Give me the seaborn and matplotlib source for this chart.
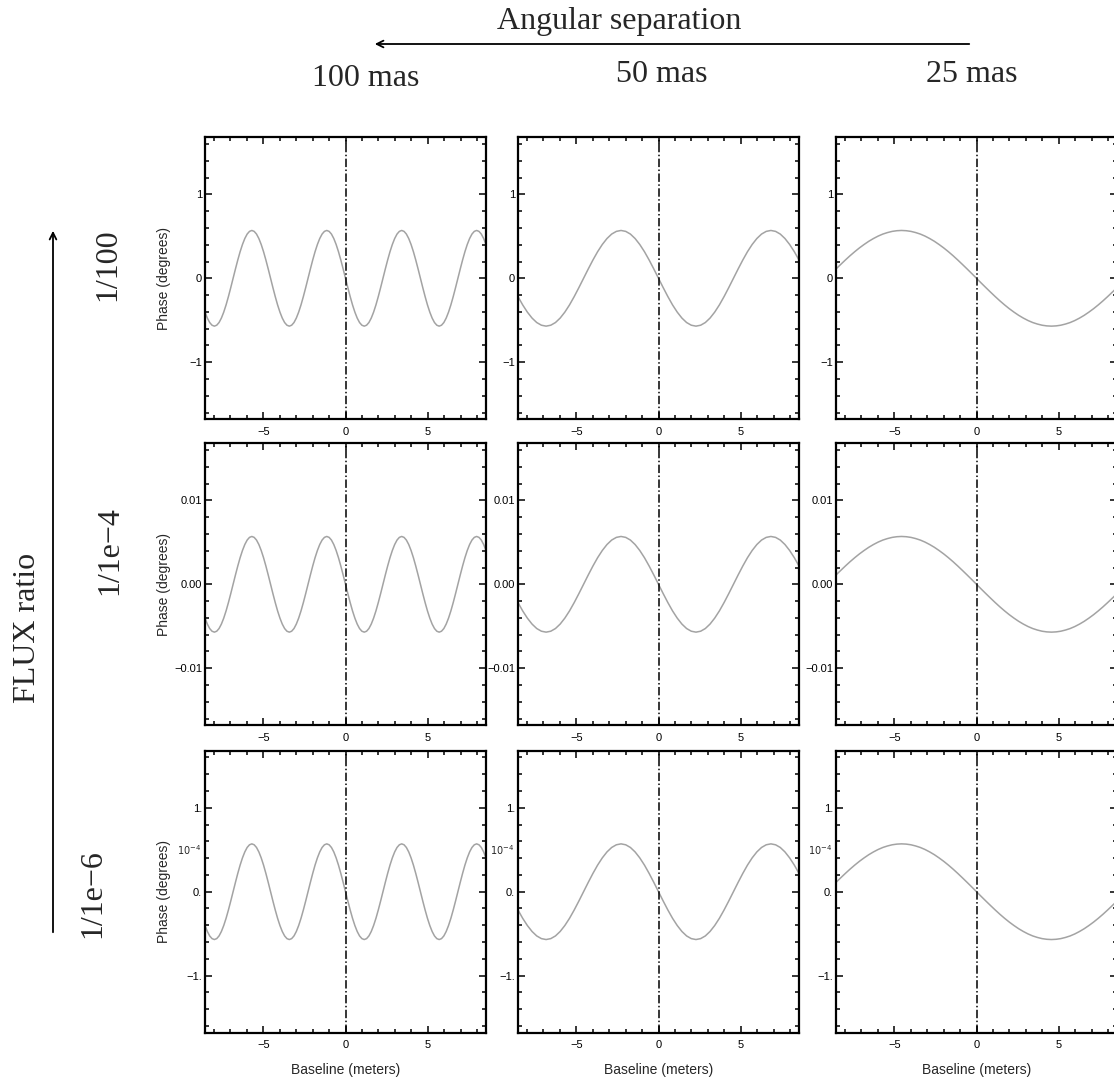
import numpy as np
import pandas as pd
import matplotlib
matplotlib.use("Agg")
import matplotlib.pyplot as plt
import seaborn as sns
from matplotlib.ticker import MultipleLocator, FixedLocator, FixedFormatter
from matplotlib.transforms import blended_transform_factory

# ---------------- data ----------------
separations = ["100 mas", "50 mas", "25 mas"]
flux_labels = ["1/100", "1/1e\u22124", "1/1e\u22126"]
row_scale = [1.0, 1e-2, 1e-4]          # phase relative to the 1/100 row

# finer baseline sampling for the fast-oscillating 100 mas column
baseline_fine = [-8.55, -8.4075, -8.265, -8.1225, -7.98, -7.8375, -7.695, -7.5525, -7.41, -7.2675,
                 -7.125, -6.9825, -6.84, -6.6975, -6.555, -6.4125, -6.27, -6.1275, -5.985, -5.8425,
                 -5.7, -5.5575, -5.415, -5.2725, -5.13, -4.9875, -4.845, -4.7025, -4.56, -4.4175,
                 -4.275, -4.1325, -3.99, -3.8475, -3.705, -3.5625, -3.42, -3.2775, -3.135, -2.9925,
                 -2.85, -2.7075, -2.565, -2.4225, -2.28, -2.1375, -1.995, -1.8525, -1.71, -1.5675,
                 -1.425, -1.2825, -1.14, -0.9975, -0.855, -0.7125, -0.57, -0.4275, -0.285, -0.1425,
                 0.0,
                 0.1425, 0.285, 0.4275, 0.57, 0.7125, 0.855, 0.9975, 1.14, 1.2825, 1.425,
                 1.5675, 1.71, 1.8525, 1.995, 2.1375, 2.28, 2.4225, 2.565, 2.7075, 2.85,
                 2.9925, 3.135, 3.2775, 3.42, 3.5625, 3.705, 3.8475, 3.99, 4.1325, 4.275,
                 4.4175, 4.56, 4.7025, 4.845, 4.9875, 5.13, 5.2725, 5.415, 5.5575, 5.7,
                 5.8425, 5.985, 6.1275, 6.27, 6.4125, 6.555, 6.6975, 6.84, 6.9825, 7.125,
                 7.2675, 7.41, 7.5525, 7.695, 7.8375, 7.98, 8.1225, 8.265, 8.4075, 8.55]

phase_100mas = [-0.403, -0.474, -0.527, -0.559, -0.570, -0.559, -0.527, -0.474, -0.403, -0.317,
                -0.218, -0.111, 0.0, 0.111, 0.218, 0.317, 0.403, 0.474, 0.527, 0.559,
                0.570, 0.559, 0.527, 0.474, 0.403, 0.317, 0.218, 0.111,
                0.0, -0.111, -0.218, -0.317, -0.403, -0.474, -0.527, -0.559, -0.570, -0.559,
                -0.527, -0.474, -0.403, -0.317, -0.218, -0.111, 0.0, 0.111, 0.218, 0.317,
                0.403, 0.474, 0.527, 0.559, 0.570, 0.559, 0.527, 0.474, 0.403, 0.317,
                0.218, 0.111,
                0.0, -0.111, -0.218, -0.317, -0.403, -0.474, -0.527, -0.559, -0.570, -0.559,
                -0.527, -0.474, -0.403, -0.317, -0.218, -0.111, 0.0, 0.111, 0.218, 0.317,
                0.403, 0.474, 0.527, 0.559, 0.570, 0.559, 0.527, 0.474, 0.403, 0.317,
                0.218, 0.111,
                0.0, -0.111, -0.218, -0.317, -0.403, -0.474, -0.527, -0.559, -0.570, -0.559,
                -0.527, -0.474, -0.403, -0.317, -0.218, -0.111, 0.0, 0.111, 0.218, 0.317,
                0.403, 0.474, 0.527, 0.559, 0.570, 0.559, 0.527, 0.474, 0.403]

baseline = [-8.55, -8.265, -7.98, -7.695, -7.41, -7.125, -6.84, -6.555, -6.27, -5.985,
            -5.7, -5.415, -5.13, -4.845, -4.56, -4.275, -3.99, -3.705, -3.42, -3.135,
            -2.85, -2.565, -2.28, -1.995, -1.71, -1.425, -1.14, -0.855, -0.57, -0.285,
            0.0,
            0.285, 0.57, 0.855, 1.14, 1.425, 1.71, 1.995, 2.28, 2.565, 2.85,
            3.135, 3.42, 3.705, 3.99, 4.275, 4.56, 4.845, 5.13, 5.415, 5.7,
            5.985, 6.27, 6.555, 6.84, 7.125, 7.41, 7.695, 7.98, 8.265, 8.55]

phase_50mas = [-0.218, -0.317, -0.403, -0.474, -0.527, -0.559, -0.570, -0.559, -0.527, -0.474,
               -0.403, -0.317, -0.218, -0.111, 0.0, 0.111, 0.218, 0.317, 0.403, 0.474,
               0.527, 0.559, 0.570, 0.559, 0.527, 0.474, 0.403, 0.317, 0.218, 0.111,
               0.0,
               -0.111, -0.218, -0.317, -0.403, -0.474, -0.527, -0.559, -0.570, -0.559, -0.527,
               -0.474, -0.403, -0.317, -0.218, -0.111, 0.0, 0.111, 0.218, 0.317, 0.403,
               0.474, 0.527, 0.559, 0.570, 0.559, 0.527, 0.474, 0.403, 0.317, 0.218]

phase_25mas = [0.111, 0.165, 0.218, 0.269, 0.317, 0.362, 0.403, 0.441, 0.474, 0.503,
               0.527, 0.545, 0.559, 0.567, 0.570, 0.567, 0.559, 0.545, 0.527, 0.503,
               0.474, 0.441, 0.403, 0.362, 0.317, 0.269, 0.218, 0.165, 0.111, 0.056,
               0.0,
               -0.056, -0.111, -0.165, -0.218, -0.269, -0.317, -0.362, -0.403, -0.441, -0.474,
               -0.503, -0.527, -0.545, -0.559, -0.567, -0.570, -0.567, -0.559, -0.545, -0.527,
               -0.503, -0.474, -0.441, -0.403, -0.362, -0.317, -0.269, -0.218, -0.165, -0.111]

column_baselines = [baseline_fine, baseline, baseline]
column_phases = [phase_100mas, phase_50mas, phase_25mas]

x_ticks = [-5, 0, 5]
x_tick_labels = ["\u22125", "0", "5"]
y_ticks = [[-1, 0, 1], [-0.01, 0.0, 0.01], [-1e-4, 0.0, 1e-4]]
y_tick_labels = [["\u22121", "0", "1"], ["\u22120.01", "0.00", "0.01"], ["\u22121.", "0.", "1."]]
y_limits = [1.68, 0.0168, 1.68e-4]
y_minor = [0.2, 0.002, 0.2e-4]
x_limit = 8.55

# ---------------- style ----------------
sns.set_style("ticks")
plt.rcParams["font.family"] = ["Liberation Sans", "DejaVu Sans"]
plt.rcParams["axes.linewidth"] = 1.5

W, H = 1114, 1084
fig = plt.figure(figsize=(W / 100, H / 100), dpi=100)

col_left = [205, 518, 836]
row_top = [137.3, 443.3, 750.7]
ax_w, ax_h = 281, 282

serif = ["Liberation Serif", "DejaVu Serif"]

for r in range(3):
    for c in range(3):
        left = col_left[c] / W
        bottom = (H - row_top[r] - ax_h) / H
        ax = fig.add_axes([left, bottom, ax_w / W, ax_h / H])
        df = pd.DataFrame({"baseline": column_baselines[c],
                           "phase": np.asarray(column_phases[c]) * row_scale[r]})
        sns.lineplot(data=df, x="baseline", y="phase", ax=ax, color="#a3a3a3",
                     linewidth=1.1, estimator=None, sort=False)
        ax.axvline(0, color="black", lw=1.1, ls=(0, (5.5, 1.6, 1.0, 1.6)))
        ax.set_xlim(-x_limit, x_limit)
        ax.set_ylim(-y_limits[r], y_limits[r])
        ax.xaxis.set_major_locator(FixedLocator(x_ticks))
        ax.xaxis.set_major_formatter(FixedFormatter(x_tick_labels))
        ax.xaxis.set_minor_locator(MultipleLocator(1))
        ax.yaxis.set_major_locator(FixedLocator(y_ticks[r]))
        ax.yaxis.set_major_formatter(FixedFormatter(y_tick_labels[r]))
        ax.yaxis.set_minor_locator(MultipleLocator(y_minor[r]))
        ax.tick_params(which="both", direction="in", top=True, right=True,
                       width=1.1, labelsize=8, colors="black")
        ax.tick_params(which="major", length=5)
        ax.tick_params(which="minor", length=3)
        ax.tick_params(axis="x", pad=5.5)
        ax.tick_params(axis="y", pad=2)
        for sp in ax.spines.values():
            sp.set_linewidth(1.6)
            sp.set_color("black")
        if c == 0:
            ax.set_ylabel("Phase (degrees)", fontsize=10)
            ax.yaxis.set_label_coords(-0.121, 0.5)
        else:
            ax.set_ylabel("")
        if r == 2:
            ax.set_xlabel("Baseline (meters)", fontsize=10)
            ax.xaxis.set_label_coords(0.5, -0.108)
            tr = blended_transform_factory(ax.transAxes, ax.transData)
            ax.text(-0.012, 0.5e-4, r"$10^{-4}$", transform=tr, ha="right",
                    va="center", fontsize=7)
        else:
            ax.set_xlabel("")

# ---------------- annotations ----------------
fig.text(619 / W, 1 - 22 / H, "Angular separation", family=serif, fontsize=23,
         ha="center", va="center")
fig.add_artist(matplotlib.patches.FancyArrowPatch(
    (972 / W, 1 - 44 / H), (372 / W, 1 - 44 / H), transform=fig.transFigure,
    arrowstyle="->", mutation_scale=12, lw=1.3, color="black"))
sep_x = [366, 662, 972]
sep_y = [78, 75, 75]
for lab, xx, yy in zip(separations, sep_x, sep_y):
    fig.text(xx / W, 1 - yy / H, lab, family=serif, fontsize=23, ha="center", va="center")

fig.text(28 / W, 1 - 628 / H, "FLUX ratio", family=serif, fontsize=23,
         rotation=90, ha="center", va="center")
fig.add_artist(matplotlib.patches.FancyArrowPatch(
    (53 / W, 1 - 935 / H), (53 / W, 1 - 228 / H), transform=fig.transFigure,
    arrowstyle="->", mutation_scale=12, lw=1.3, color="black"))
flux_x = [108, 110, 93]
flux_y = [265, 551, 894]
for lab, xx, yy in zip(flux_labels, flux_x, flux_y):
    fig.text(xx / W, 1 - yy / H, lab, family=serif, fontsize=23, rotation=90,
             ha="center", va="center")

fig.savefig("out.png", dpi=100)
